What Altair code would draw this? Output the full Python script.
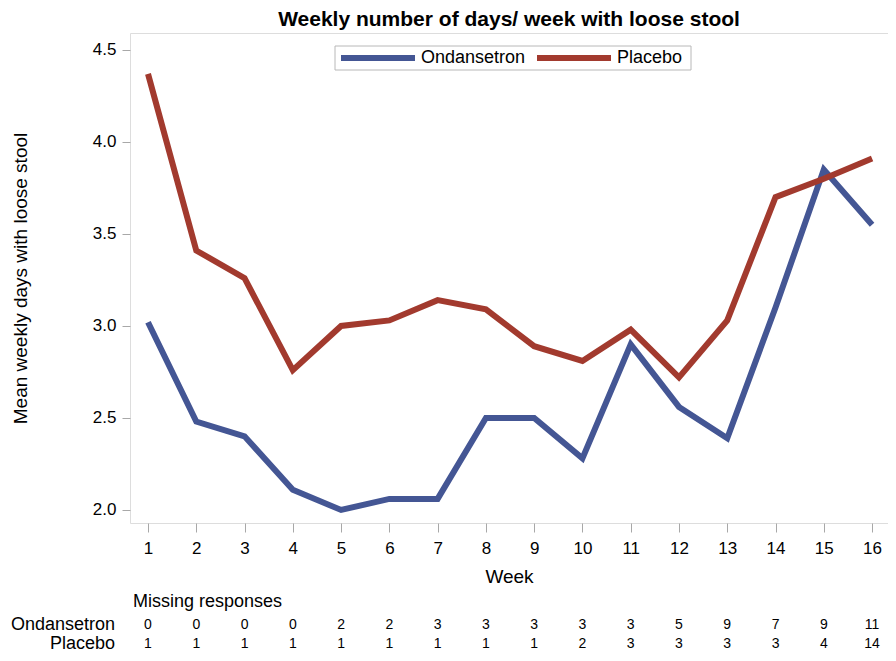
import altair as alt
import pandas as pd

weeks = list(range(1, 17))
ondansetron = [3.02, 2.48, 2.40, 2.11, 2.00, 2.06, 2.06, 2.50, 2.50, 2.28, 2.90, 2.56, 2.39, 3.10, 3.85, 3.55]
placebo = [4.37, 3.41, 3.26, 2.76, 3.00, 3.03, 3.14, 3.09, 2.89, 2.81, 2.98, 2.72, 3.03, 3.70, 3.80, 3.91]
missing_ondansetron = [0, 0, 0, 0, 2, 2, 3, 3, 3, 3, 3, 5, 9, 7, 9, 11]
missing_placebo = [1, 1, 1, 1, 1, 1, 1, 1, 1, 2, 3, 3, 3, 3, 4, 14]
groups = ["Ondansetron", "Placebo"]
colors = ["#445694", "#A23A2E"]

FONT = "Liberation Sans"
W, H = 758, 490
GRAY = "#a8a8a8"

rows = []
for w, o, p in zip(weeks, ondansetron, placebo):
    rows.append({"Week": w, "Group": "Ondansetron", "Value": o})
    rows.append({"Week": w, "Group": "Placebo", "Value": p})
df = pd.DataFrame(rows)

miss = pd.DataFrame({"Week": weeks, "Ond": missing_ondansetron, "Pla": missing_placebo})

xscale = alt.Scale(domain=[0.627, 16.33], nice=False, zero=False)
yscale = alt.Scale(domain=[1.929, 4.592], nice=False, zero=False)

lines = alt.Chart(df).mark_line(strokeWidth=6, clip=True).encode(
    x=alt.X("Week:Q", scale=xscale,
            axis=alt.Axis(values=weeks, format="d", title="Week", grid=False, domain=False,
                          tickSize=9, tickColor=GRAY, labelFontSize=17, labelPadding=8,
                          titleFontSize=19, titlePadding=11, labelColor="#000", titleColor="#000",
                          titleFontWeight="normal", labelFont=FONT, titleFont=FONT)),
    y=alt.Y("Value:Q", scale=yscale,
            axis=alt.Axis(values=[2.0, 2.5, 3.0, 3.5, 4.0, 4.5], format=".1f",
                          title="Mean weekly days with loose stool", grid=False, domain=False,
                          tickSize=8, tickColor=GRAY, labelFontSize=17, labelPadding=6,
                          titleFontSize=19, titlePadding=62, labelColor="#000", titleColor="#000",
                          titleFontWeight="normal", labelFont=FONT, titleFont=FONT)),
    color=alt.Color("Group:N", scale=alt.Scale(domain=groups, range=colors), legend=None),
)

# legend (drawn inside the plot, top centre)
one = pd.DataFrame({"k": [0]})
leg_box = alt.Chart(one).mark_rect(fill="white", stroke="#b8b8b8", strokeWidth=1).encode(
    x=alt.value(205), x2=alt.value(561), y=alt.value(13), y2=alt.value(37))
leg_l1 = alt.Chart(one).mark_rule(strokeWidth=6, color=colors[0]).encode(
    x=alt.value(211), x2=alt.value(285), y=alt.value(25))
leg_l2 = alt.Chart(one).mark_rule(strokeWidth=6, color=colors[1]).encode(
    x=alt.value(407), x2=alt.value(481), y=alt.value(25))
leg_t1 = alt.Chart(pd.DataFrame({"t": [groups[0]]})).mark_text(
    fontSize=18, font=FONT, color="#000", align="left", baseline="middle").encode(
    x=alt.value(291), y=alt.value(25), text="t:N")
leg_t2 = alt.Chart(pd.DataFrame({"t": [groups[1]]})).mark_text(
    fontSize=18, font=FONT, color="#000", align="left", baseline="middle").encode(
    x=alt.value(487), y=alt.value(25), text="t:N")

# missing responses table
base_txt = alt.Chart(miss)
row_ond = base_txt.mark_text(fontSize=14, font=FONT, color="#000", baseline="middle").encode(
    x=alt.X("Week:Q", scale=xscale), y=alt.value(592), text="Ond:Q")
row_pla = base_txt.mark_text(fontSize=14, font=FONT, color="#000", baseline="middle").encode(
    x=alt.X("Week:Q", scale=xscale), y=alt.value(611), text="Pla:Q")

head = alt.Chart(pd.DataFrame({"t": ["Missing responses"]})).mark_text(
    fontSize=18, font=FONT, color="#000", align="left", baseline="middle").encode(
    x=alt.value(3), y=alt.value(569), text="t:N")
rlab1 = alt.Chart(pd.DataFrame({"t": [groups[0]]})).mark_text(
    fontSize=18, font=FONT, color="#000", align="right", baseline="middle").encode(
    x=alt.value(-15), y=alt.value(592), text="t:N")
rlab2 = alt.Chart(pd.DataFrame({"t": [groups[1]]})).mark_text(
    fontSize=18, font=FONT, color="#000", align="right", baseline="middle").encode(
    x=alt.value(-15), y=alt.value(611), text="t:N")

chart = alt.layer(lines, leg_box, leg_l1, leg_l2, leg_t1, leg_t2,
                  row_ond, row_pla, head, rlab1, rlab2).properties(
    width=W, height=H,
    autosize=alt.AutoSizeParams(type="none"),
    padding={"left": 122, "top": 25, "right": 0, "bottom": 130},
    title=alt.Title("Weekly number of days/ week with loose stool", fontSize=21, font=FONT,
                    fontWeight="bold", color="#000", anchor="middle", offset=3),
).configure_view(stroke=GRAY, strokeWidth=1.5).configure(background="white")

chart.save("out.html", embed_options={"renderer": "svg", "actions": False})
